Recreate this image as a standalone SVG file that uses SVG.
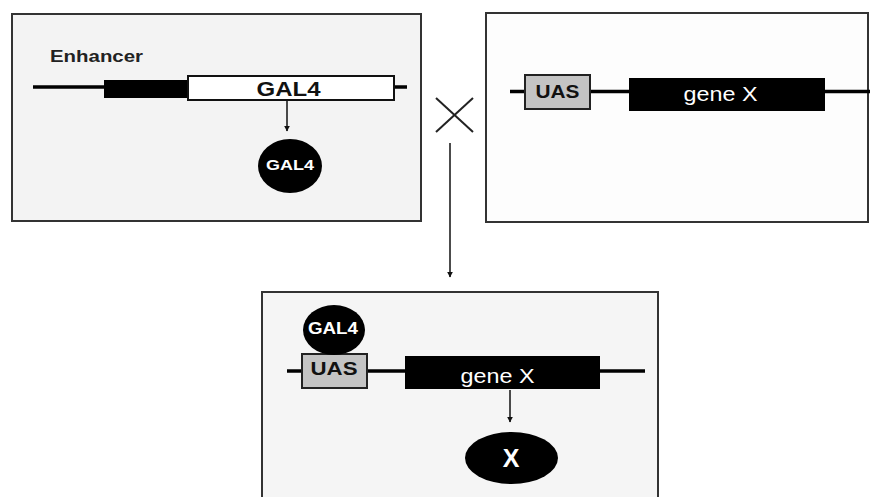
<svg xmlns="http://www.w3.org/2000/svg" width="872" height="497" viewBox="0 0 872 497">
<defs>
<style>
.panel{stroke:#333;stroke-width:2}
.dna{stroke:#000;stroke-width:3.5}
.lbl{font-family:"Liberation Sans",Arial,sans-serif;font-weight:bold}
.reg{font-family:"Liberation Sans",Arial,sans-serif}
.conn{stroke:#111;stroke-width:1.5;fill:none}
</style>
<marker id="ah" viewBox="0 0 10 10" refX="9" refY="5" markerWidth="6" markerHeight="6" orient="auto" markerUnits="userSpaceOnUse"><path d="M0,0 L10,5 L0,10 z" fill="#111"/></marker>
</defs>
<rect width="872" height="497" fill="#fff"/>
<g id="panel-driver">
<rect class="panel" x="12" y="14" width="409" height="207" fill="#f3f3f3"/>
<text class="lbl" x="50" y="61.5" font-size="17" textLength="93" lengthAdjust="spacingAndGlyphs" fill="#222">Enhancer</text>
<line class="dna" x1="33" y1="87" x2="407" y2="87"/>
<rect x="104" y="80" width="84" height="18" fill="#000"/>
<rect x="188" y="76" width="206" height="24" fill="#fff" stroke="#111" stroke-width="2"/>
<text class="lbl" x="288.5" y="95.5" font-size="21" text-anchor="middle" textLength="64" lengthAdjust="spacingAndGlyphs" fill="#111">GAL4</text>
<ellipse cx="290" cy="166" rx="32" ry="27" fill="#000"/>
<text class="lbl" x="290" y="170" font-size="14" text-anchor="middle" textLength="48" lengthAdjust="spacingAndGlyphs" fill="#fff">GAL4</text>
</g>
<g id="panel-responder">
<rect class="panel" x="486" y="13" width="382" height="209" fill="#fdfdfd"/>
<line class="dna" x1="510" y1="91.5" x2="870" y2="91.5"/>
<rect x="525" y="75" width="65" height="34" fill="#c4c4c4" stroke="#222" stroke-width="2"/>
<text class="lbl" x="557.5" y="97.5" font-size="19" text-anchor="middle" textLength="44" lengthAdjust="spacingAndGlyphs" fill="#111">UAS</text>
<rect x="629" y="78" width="196" height="33" fill="#000"/>
<text class="reg" x="720.5" y="101" font-size="20" text-anchor="middle" textLength="74" lengthAdjust="spacingAndGlyphs" fill="#fff">gene X</text>
</g>
<g id="cross">
<line x1="436" y1="98" x2="473" y2="132" stroke="#222" stroke-width="2"/>
<line x1="473" y1="98" x2="436" y2="132" stroke="#222" stroke-width="2"/>
</g>
<g id="panel-progeny">
<rect class="panel" x="262" y="292" width="396" height="210" fill="#f5f5f5"/>
<line class="dna" x1="287" y1="371" x2="645" y2="371"/>
<rect x="302" y="354" width="65" height="34" fill="#c4c4c4" stroke="#222" stroke-width="2"/>
<text class="lbl" x="334" y="375" font-size="19" text-anchor="middle" textLength="47" lengthAdjust="spacingAndGlyphs" fill="#111">UAS</text>
<ellipse cx="334" cy="330" rx="31" ry="25" fill="#000"/>
<text class="lbl" x="333" y="333.5" font-size="16" text-anchor="middle" textLength="50" lengthAdjust="spacingAndGlyphs" fill="#fff">GAL4</text>
<rect x="405" y="356" width="195" height="33" fill="#000"/>
<text class="reg" x="497.5" y="382.5" font-size="20" text-anchor="middle" textLength="74" lengthAdjust="spacingAndGlyphs" fill="#fff">gene X</text>
<ellipse cx="511.5" cy="458" rx="46.5" ry="26" fill="#000"/>
<text class="lbl" x="511" y="466.5" font-size="25" text-anchor="middle" fill="#fff">X</text>
</g>
<g id="connectors">
<line class="conn" x1="287" y1="101" x2="287" y2="131" marker-end="url(#ah)"/>
<line class="conn" x1="450" y1="143" x2="450" y2="277" marker-end="url(#ah)"/>
<line class="conn" x1="510" y1="390" x2="510" y2="422" marker-end="url(#ah)"/>
</g>
</svg>
